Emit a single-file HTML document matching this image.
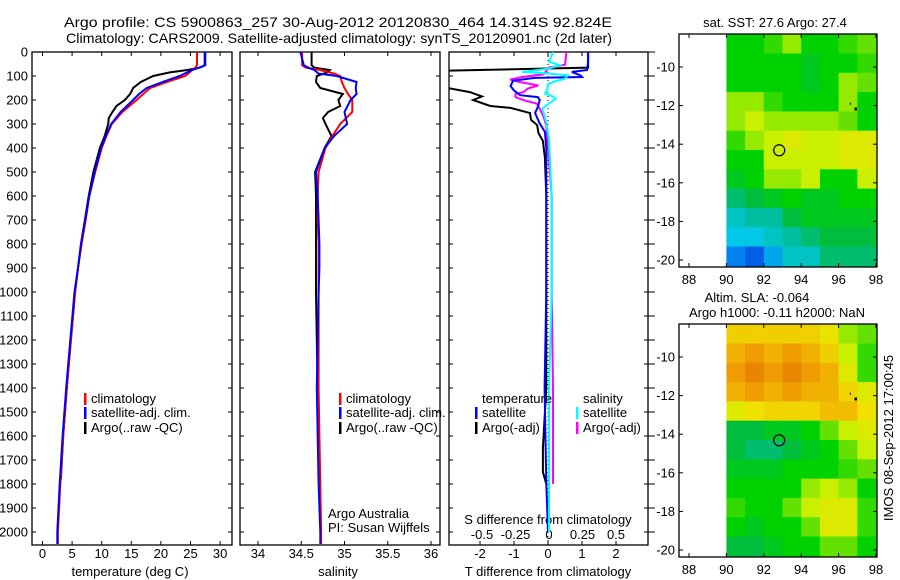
<!DOCTYPE html>
<html><head><meta charset="utf-8"><title>Argo profile</title>
<style>
html,body{margin:0;padding:0;background:#fff;}
svg{display:block;font-family:"Liberation Sans",sans-serif;}
text{fill:#000;}
</style></head>
<body>
<svg id="chart" xmlns="http://www.w3.org/2000/svg" width="900" height="580" viewBox="0 0 900 580">
<text x="338" y="27" font-size="14" text-anchor="middle" textLength="548" lengthAdjust="spacingAndGlyphs">Argo profile: CS 5900863_257 30-Aug-2012 20120830_464 14.314S 92.824E</text>
<text x="339" y="43" font-size="14" text-anchor="middle" textLength="546" lengthAdjust="spacingAndGlyphs">Climatology: CARS2009. Satellite-adjusted climatology: synTS_20120901.nc (2d later)</text>
<g id="g"></g>
</svg>
<script>
// ---- profile data ----
const tDepth=[0,55,65,75,90,100,125,150,175,200,250,300,350,400,500,600,700,800,900,1000,1200,1400,1600,1800,2000,2050];
const tempClim=[26.1,26.1,25.8,25.3,24.6,24.1,21,18.2,17,15.9,13.5,11.7,10.8,10.0,8.9,7.9,7.3,6.6,6.0,5.5,4.8,4.1,3.5,3.0,2.6,2.6];
const tempSat=[27.5,27.5,26.5,25.3,24.0,23.2,20.3,17.6,16.3,15.3,13.2,11.6,10.7,9.9,8.8,7.9,7.2,6.5,6.0,5.4,4.7,4.0,3.4,2.9,2.5,2.5];
const salClim=[34.51,34.51,34.55,34.72,34.88,34.95,34.97,35.0,35.04,35.09,35.09,34.95,34.86,34.78,34.7,34.69,34.69,34.7,34.7,34.7,34.7,34.7,34.71,34.72,34.73,34.73];
const salSat=[34.49,34.53,34.58,34.65,34.7,34.91,35.14,35.13,35.14,35.07,35.0,35.03,34.88,34.77,34.67,34.69,34.7,34.71,34.71,34.7,34.69,34.68,34.69,34.7,34.72,34.72];
const argoDepth=[0,55,65,75,85,100,125,150,175,200,225,250,275,300,350,400,500,600,800,1000,1200,1400,1600,1780];
const argoTemp=[27.4,27.4,26.6,24.5,21.5,18.7,16.6,15.3,14.8,13.9,12.5,11.8,11.2,11.1,10.5,9.7,8.6,7.8,6.5,5.5,4.8,4.1,3.5,3.1];
const argoSal=[34.62,34.62,34.65,34.83,34.8,34.68,34.67,34.72,34.98,34.93,34.95,34.81,34.75,34.78,34.85,34.77,34.66,34.67,34.67,34.67,34.68,34.69,34.7,34.7];
const satTdDepth=[0,40,75,83,97,104,108,120,142,160,180,188,200,229,254,296,333,400,600,1000,1400,1800,2000];
const satTdiff=[1.18,1.18,1.15,0.7,0.95,1.0,-0.4,-1.03,-1.1,-1.0,-0.82,-0.3,-0.24,-0.3,-0.38,-0.25,-0.09,-0.05,-0.05,-0.05,-0.1,-0.05,0];
const argoTdDepth=[0,65,72,78,150,167,185,200,225,233,254,283,304,338,371,440,600,1000,1400,1650,1750,1800];
const argoTdiff=[1.18,1.18,-1.0,-2.95,-2.95,-2.3,-1.94,-2.2,-1.7,-1.1,-0.53,-0.5,-0.32,-0.28,-0.15,-0.09,-0.05,-0.05,-0.05,-0.15,-0.15,-0.05];
const satSdDepth=[0,40,55,69,83,90,97,111,125,135,153,174,185,194,215,236,292,361,600,1000,1400,2000];
const satSdiff=[0.03,0.0,0.08,0.0,-0.2,0.0,0.14,0.12,0.03,-0.01,-0.01,-0.03,0.03,0.05,0.0,-0.05,-0.02,0.0,0.02,0.02,0.0,0.0];
const argoSdDepth=[0,53,65,93,104,115,125,139,153,167,174,188,201,215,236,271,306,600,1000,1400,1800];
const argoSdiff=[0.13,0.12,0.0,-0.04,-0.2,-0.29,-0.22,-0.08,-0.16,-0.19,-0.25,-0.25,-0.19,-0.09,-0.07,-0.04,-0.02,0.02,0.02,0.03,0.03];
const depthTicks=[0,100,200,300,400,500,600,700,800,900,1000,1100,1200,1300,1400,1500,1600,1700,1800,1900,2000];
const tempTicks=[0,5,10,15,20,25,30];
const salTicks=[34,34.5,35,35.5,36];
const salTickLabels=["34","34.5","35","35.5","36"];
const tdTicks=[-2,-1,0,1,2];
const sdTicks=[-0.5,-0.25,0,0.25,0.5];
const sdTickLabels=["-0.5","-0.25","0","0.25","0.5"];
// ---- map data (1 degree cells, lon 90..97, rows from 8.3S southward) ----
const mapLons=[90,91,92,93,94,95,96,97];
const mapLatTop=[8.3,9.3,10.3,11.3,12.3,13.3,14.3,15.3,16.3,17.3,18.3,19.3];
const sstGrid=[
[5,5,5.5,6.5,5,5,5.5,6],
[5,5,5,5,4.5,5,5,5.5],
[5,5,5,5,4.5,5,6.5,6],
[6.5,6.5,5.5,5,5,5,6.5,5],
[6.5,7,6.5,6.5,6.5,6.5,6,5],
[5.5,6.5,7,7.5,7,7,7.5,7.5],
[5,5,7,7,7,7,7.5,7.5],
[4.5,5,6.5,6.5,7,5,5,7],
[3.5,4,4.5,5,4.5,4.5,5,5],
[2.5,3,3,4,4.5,4.5,4.5,4.5],
[2,2,2.5,3,3.5,4,4,4],
[1,0.5,1.5,2.5,2.5,3.5,3.5,3.5]];
const slaGrid=[
[8.3,8.3,8.3,8.3,8.3,7.8,6.5,6],
[8.8,9.2,8.8,9.2,8.8,8.3,7,5.5],
[9.2,9.7,9.2,9.7,9.2,8.8,7.5,5.5],
[8.8,9.2,8.8,9.2,8.8,8.8,8.2,7.5],
[7.5,8,8.2,8.2,8.2,8.6,8.6,8],
[4,4,4.5,4.5,5,6,7,7.5],
[4,3.5,3.5,4,4.5,5,6,7],
[4.5,4.5,4.5,5,5,5,5.5,6],
[5,5,5,5,6.5,7,6.5,5],
[5.5,5,5,6,7,7.5,7.5,5.5],
[5,4.5,5,5,6,7.5,7.5,5.5],
[4,4,4.5,5,5,6,6,5]];
const mapLatTicks=[10,12,14,16,18,20];
const mapLonTicks=[88,90,92,94,96,98];
const floatLon=92.824, floatLat=14.314;

const NS="http://www.w3.org/2000/svg";
const G=document.getElementById('g');
function mk(tag,attrs,parent){const e=document.createElementNS(NS,tag);for(const k in attrs)e.setAttribute(k,attrs[k]);(parent||G).appendChild(e);return e;}
function txt(s,attrs,parent){const e=mk('text',attrs,parent);e.textContent=s;return e;}

const TOP=52,BOT=545;
const yD=d=>TOP+d*0.24;
const panels=[
 {name:'temperature-panel',x0:32,x1:232,fx:v=>42.5+v*5.92},
 {name:'salinity-panel',x0:240,x1:440,fx:v=>258+(v-34)*86.5},
 {name:'difference-panel',x0:449,x1:648,fx:v=>548+v*34}
];
const fS=v=>549+v*134;

const defs=mk('defs',{});
panels.forEach((p,i)=>{const c=mk('clipPath',{id:'cp'+i},defs);mk('rect',{x:p.x0,y:TOP,width:p.x1-p.x0,height:BOT-TOP},c);});

function line(name,xs,ds,fx,color,clip,w){
  const pts=xs.map((v,i)=>fx(v).toFixed(1)+','+yD(ds[i]).toFixed(1)).join(' ');
  const e=mk('polyline',{points:pts,fill:'none',stroke:color,'stroke-width':w||2,'clip-path':'url(#'+clip+')'});
  
  
  return e;
}

panels.forEach((p,i)=>{
  const f=mk('rect',{x:p.x0,y:TOP,width:p.x1-p.x0,height:BOT-TOP,fill:'none',stroke:'#000','stroke-width':1.3});
  
  
  depthTicks.forEach(d=>{
    const y=yD(d);
    mk('line',{x1:p.x0,y1:y,x2:p.x0+4,y2:y,stroke:'#000'});
    mk('line',{x1:p.x1,y1:y,x2:p.x1-4,y2:y,stroke:'#000'});
  });
});
depthTicks.forEach(d=>{mk('line',{x1:648,y1:yD(d),x2:655,y2:yD(d),stroke:'#000'});});
depthTicks.forEach(d=>{
  const t=txt(String(d),{x:28,y:yD(d)+4.5,'font-size':13,'text-anchor':'end'});
  
  
});
function xTicks(p,vals,labels,fx){
  vals.forEach((v,i)=>{
    const x=fx(v);
    mk('line',{x1:x,y1:TOP,x2:x,y2:TOP+4,stroke:'#000'});
    mk('line',{x1:x,y1:BOT,x2:x,y2:BOT-4,stroke:'#000'});
    const t=txt(labels[i],{x:x,y:558,'font-size':13,'text-anchor':'middle'});
    
    
  });
}
xTicks(panels[0],tempTicks,tempTicks.map(String),panels[0].fx);
xTicks(panels[1],salTicks,salTickLabels,panels[1].fx);
xTicks(panels[2],tdTicks,tdTicks.map(String),panels[2].fx);
sdTicks.forEach((v,i)=>{
  const t=txt(sdTickLabels[i],{x:fS(v),y:539,'font-size':13,'text-anchor':'middle'});
  
  
});
[[130,'temperature (deg C)','temperature-axis-title'],[338,'salinity','salinity-axis-title'],[548,'T difference from climatology','t-diff-axis-title']].forEach(a=>{
  const t=txt(a[1],{x:a[0],y:576,'font-size':13,'text-anchor':'middle'});
  
  
});
txt('S difference from climatology',{x:548,y:524,'font-size':13,'text-anchor':'middle'});

mk('line',{x1:548,y1:TOP,x2:548,y2:BOT,stroke:'#000','stroke-dasharray':'1,3','stroke-width':1});

line('temp-argo',argoTemp,argoDepth,panels[0].fx,'#000','cp0');
line('temp-climatology',tempClim,tDepth,panels[0].fx,'#f00','cp0');
line('temp-satellite',tempSat,tDepth,panels[0].fx,'#00f','cp0');
line('sal-argo',argoSal,argoDepth,panels[1].fx,'#000','cp1');
line('sal-climatology',salClim,tDepth,panels[1].fx,'#f00','cp1');
line('sal-satellite',salSat,tDepth,panels[1].fx,'#00f','cp1');
line('tdiff-argo',argoTdiff,argoTdDepth,panels[2].fx,'#000','cp2');
line('sdiff-argo',argoSdiff,argoSdDepth,fS,'#f0f','cp2');
line('tdiff-satellite',satTdiff,satTdDepth,panels[2].fx,'#00f','cp2');
line('sdiff-satellite',satSdiff,satSdDepth,fS,'#0ff','cp2');

function legend(x,y,color,label,name){
  const g=mk('g',{});
  
  
  mk('rect',{x:x,y:y-10,width:2.5,height:12,fill:color},g);
  txt(label,{x:x+7,y:y,'font-size':13},g);
}
legend(84,403,'#f00','climatology','legend-climatology');
legend(84,417,'#00f','satellite-adj. clim.','legend-satellite-adj');
legend(84,432,'#000','Argo(..raw -QC)','legend-argo');
legend(339,403,'#f00','climatology','legend2-climatology');
legend(339,417,'#00f','satellite-adj. clim.','legend2-satellite-adj');
legend(339,432,'#000','Argo(..raw -QC)','legend2-argo');
txt('temperature',{x:482,y:403,'font-size':13});
txt('salinity',{x:583,y:403,'font-size':13});
legend(475,417,'#00f','satellite','legend-t-satellite');
legend(475,432,'#000','Argo(-adj)','legend-t-argo');
legend(576,417,'#0ff','satellite','legend-s-satellite');
legend(576,432,'#f0f','Argo(-adj)','legend-s-argo');
txt('Argo Australia',{x:328,y:518,'font-size':13});
txt('PI: Susan Wijffels',{x:328,y:532,'font-size':13});

const stops=[[0,60,215],[0,130,240],[0,200,230],[0,190,160],[0,190,60],[0,210,0],[100,225,0],[200,240,0],[240,225,0],[240,165,0],[230,120,0]];
function cmap(v){const i=Math.max(0,Math.min(9,Math.floor(v)));const f=Math.max(0,Math.min(1,v-i));const a=stops[i],b=stops[i+1];return 'rgb('+a.map((c,k)=>Math.round(c+(b[k]-c)*f)).join(',')+')';}
const lonX=l=>689+(l-88)*18.7;
function drawMap(name,grid,top){
  const latY=l=>top+33+(l-10)*19.3;
  const bottom=top+233;
  const g=mk('g',{});
  
  
  grid.forEach((row,r)=>row.forEach((v,c)=>{
    const x0=lonX(mapLons[c]),x1=Math.min(lonX(mapLons[c]+1),877);
    const y0=Math.max(latY(mapLatTop[r]),top),y1=(r==grid.length-1)?bottom:latY(mapLatTop[r]+1);
    const e=mk('rect',{x:x0.toFixed(1),y:y0.toFixed(1),width:(x1-x0+0.5).toFixed(1),height:(y1-y0+0.5).toFixed(1),fill:cmap(v)},g);
    
    
  }));
  mk('rect',{x:679,y:top,width:198,height:233,fill:'none',stroke:'#000','stroke-width':1.3},g);
  mapLatTicks.forEach(l=>{const y=latY(l);mk('line',{x1:679,y1:y,x2:683,y2:y,stroke:'#000'},g);mk('line',{x1:877,y1:y,x2:873,y2:y,stroke:'#000'},g);
    const t=txt('-'+l,{x:675,y:y+4.5,'font-size':13,'text-anchor':'end'},g);});
  mapLonTicks.forEach(l=>{const x=lonX(l);mk('line',{x1:x,y1:top,x2:x,y2:top+4,stroke:'#000'},g);mk('line',{x1:x,y1:bottom,x2:x,y2:bottom-4,stroke:'#000'},g);
    const t=txt(String(l),{x:x,y:bottom+17,'font-size':13,'text-anchor':'middle'},g);});
  const c=mk('circle',{cx:lonX(floatLon),cy:latY(floatLat),r:5.5,fill:'none',stroke:'#000','stroke-width':1.2},g);
  
  
  mk('rect',{x:lonX(96.85),y:latY(12.1),width:2.5,height:3,fill:'#000'},g);
  mk('rect',{x:lonX(96.6),y:latY(11.85),width:1,height:2,fill:'#000'},g);
}
drawMap('sst-map',sstGrid,34);
drawMap('sla-map',slaGrid,324);
txt('sat. SST: 27.6 Argo: 27.4',{x:775,y:27,'font-size':13,'text-anchor':'middle'});
txt('Altim. SLA: -0.064',{x:757,y:302,'font-size':13,'text-anchor':'middle'});
txt('Argo h1000: -0.11 h2000: NaN',{x:777,y:317,'font-size':13,'text-anchor':'middle'});
const ts=txt('IMOS 08-Sep-2012 17:00:45',{x:0,y:0,'font-size':13,'text-anchor':'middle',transform:'translate(893,438) rotate(-90)'});


</script>
</body></html>
